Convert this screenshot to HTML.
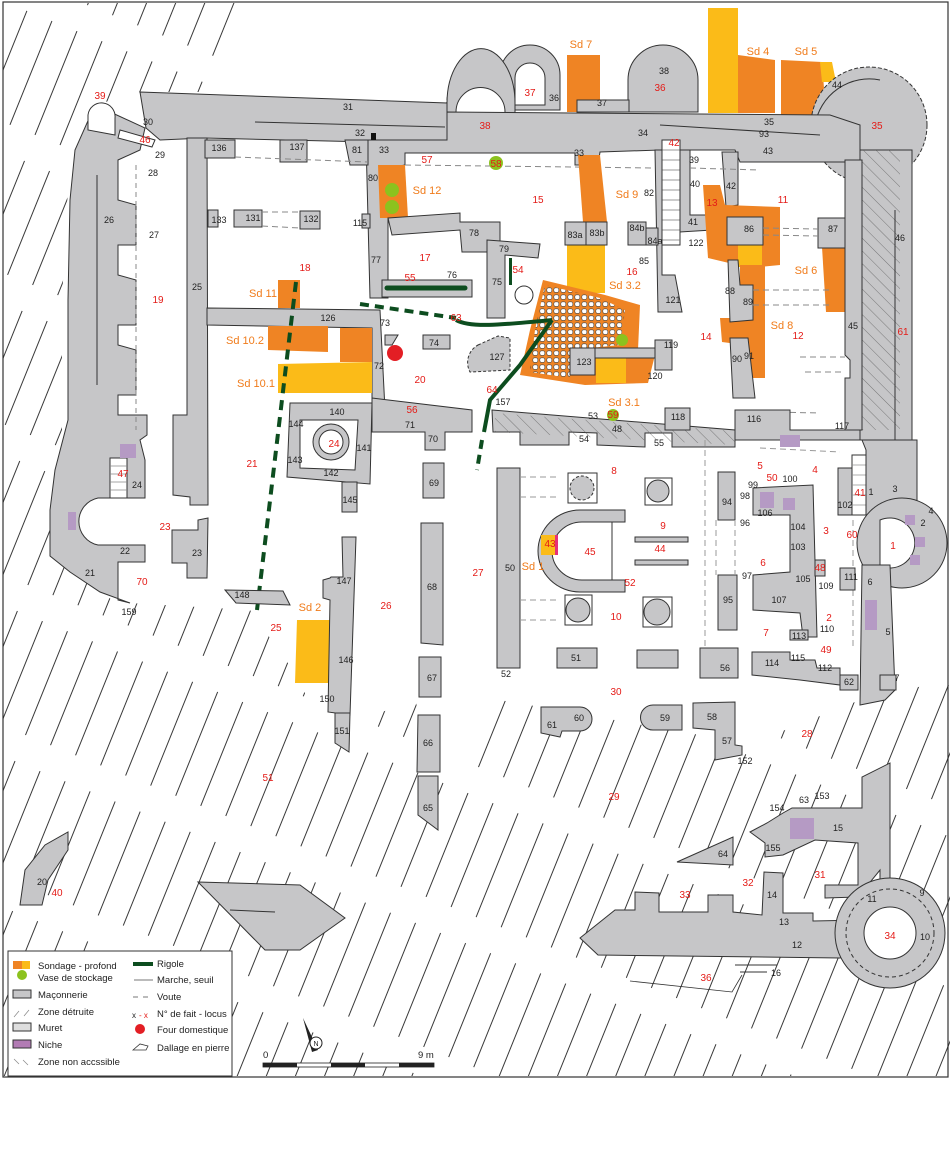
<!DOCTYPE html>
<html><head><meta charset="utf-8"><style>
html,body{margin:0;padding:0;background:#fff}
svg{display:block}
text{font-family:"Liberation Sans",sans-serif}
.k{font-size:9px;fill:#222}
.r{font-size:10px;fill:#e41b17}
.o{font-size:11px;fill:#f07b1a}
.g{fill:#c6c6c8;stroke:#333;stroke-width:1}
.w{fill:#fff;stroke:#333;stroke-width:1}
.or{fill:#ef8424}
.ye{fill:#fbbb18}
.lg{font-size:9.5px;fill:#222}
</style></head><body>
<svg width="952" height="1171" viewBox="0 0 952 1171" xmlns="http://www.w3.org/2000/svg">
<defs>
<pattern id="h" width="27" height="140" patternUnits="userSpaceOnUse" patternTransform="rotate(22)">
<line x1="2" y1="0" x2="2" y2="112" stroke="#222" stroke-width="0.9"/>
</pattern>
<pattern id="h2" width="9" height="9" patternUnits="userSpaceOnUse" patternTransform="rotate(-45)">
<line x1="0" y1="0" x2="0" y2="9" stroke="#555" stroke-width="0.7"/>
</pattern>
<pattern id="d" width="7" height="7" patternUnits="userSpaceOnUse">
<rect x="0.8" y="0.8" width="5" height="4.6" rx="1.8" fill="#fff" stroke="#444" stroke-width="0.6"/>
</pattern>
</defs>
<rect x="3" y="2" width="945" height="1075" fill="#fff" stroke="#333" stroke-width="1.2"/>

<!-- hatch zones -->
<polygon points="3,3 245,3 220,92 140,92 95,105 70,150 62,300 62,440 50,500 50,556 130,603 250,610 300,680 330,760 360,720 415,700 440,780 500,700 700,735 760,740 860,700 950,680 950,1076 3,1076" fill="url(#h)"/>
<polygon points="70,520 140,520 145,600 118,604 50,556" fill="#fff"/>

<!-- top towers and sondages -->
<rect class="ye" x="708" y="8" width="30" height="105"/>
<polygon class="or" points="738,55 775,60 775,113 738,113"/>
<polygon class="or" points="781,60 822,62 826,115 781,115"/>
<polygon class="ye" points="820,62 832,62 836,82 822,82"/>
<polygon class="or" points="567,55 600,55 600,112 567,112"/>
<path class="g" d="M500,110 L500,75 A30,30 0 0 1 560,75 L560,110 Z"/>
<path class="w" d="M515,105 L515,78 A15,15 0 0 1 545,78 L545,105 Z"/>
<path d="M447,105 A25,25 0 0 1 490,85" fill="none" stroke="#333" stroke-dasharray="3,2"/>
<path class="g" d="M628,112 L628,80 A35,35 0 0 1 698,80 L698,112 Z"/>
<rect class="g" x="577" y="100" width="52" height="12"/>

<!-- round tower 35 -->
<circle class="g" cx="869" cy="125" r="58" stroke-dasharray="4,2"/>
<polygon class="g" points="856,150 912,150 912,440 856,440"/>
<polygon points="862,150 900,150 900,430 862,430" fill="url(#h2)"/>
<path d="M815,125 A55,55 0 0 1 880,80" fill="none" stroke="#333"/>
<line x1="895" y1="210" x2="895" y2="440" stroke="#333"/>

<!-- top walls -->
<path class="g" d="M140,92 L447,103 L447,140 L370,142 L205,138 L160,140 L146,128 Z"/>
<path class="g" d="M447,140 L447,103 A25,40 0 0 1 515,103 L515,140 Z"/>
<path class="w" d="M456,140 L456,112 A24,24 0 0 1 505,112 L505,140 Z"/>
<polygon class="g" points="447,112 830,115 860,125 860,162 740,162 735,150 668,150 668,245 660,245 660,150 600,152 598,165 575,165 575,153 405,153 405,165 388,168 388,298 370,298 366,140 447,140"/>
<line x1="255" y1="122" x2="445" y2="127" stroke="#333"/>
<line x1="660" y1="125" x2="820" y2="135" stroke="#333"/>
<rect x="371" y="133" width="5" height="7" fill="#111"/>
<!-- stair 42 -->
<rect x="662" y="140" width="18" height="105" fill="#fff" stroke="#333"/>
<g stroke="#777" stroke-width="0.7"><line x1="662" y1="150" x2="680" y2="150"/><line x1="662" y1="160" x2="680" y2="160"/><line x1="662" y1="170" x2="680" y2="170"/><line x1="662" y1="180" x2="680" y2="180"/><line x1="662" y1="190" x2="680" y2="190"/><line x1="662" y1="200" x2="680" y2="200"/><line x1="662" y1="210" x2="680" y2="210"/><line x1="662" y1="220" x2="680" y2="220"/><line x1="662" y1="230" x2="680" y2="230"/><line x1="662" y1="240" x2="680" y2="240"/></g>
<polygon class="g" points="655,150 662,150 662,275 675,275 682,312 658,312"/>
<polygon class="g" points="680,150 690,150 690,215 712,215 712,230 680,232"/>
<polygon class="g" points="722,152 738,152 738,205 726,207"/>

<!-- left curtain wall -->
<path class="g" d="M95,105 L145,128 L140,150 L118,160 L118,200 L136,205 L136,245 L118,245 L118,275 L136,280 L136,325 L118,325 L118,345 L136,350 L136,395 L118,395 L118,415 L147,415 L147,435 L140,440 L145,460 L145,498 L98,498 A24,24 0 0 0 98,545 L145,545 L145,562 L118,562 L118,600 L130,603 L100,592 L70,572 L50,556 L50,510 L55,470 L68,420 L68,300 L70,200 L75,150 Z"/>
<path class="w" d="M88,130 L88,115 A12,12 0 0 1 115,118 L115,135 Z"/>
<line x1="136" y1="165" x2="136" y2="430" stroke="#888" stroke-dasharray="5,4"/>
<line x1="97" y1="175" x2="97" y2="385" stroke="#333"/>
<rect x="110" y="458" width="17" height="40" fill="#fff" stroke="#333"/>
<g stroke="#888" stroke-width="0.7"><line x1="110" y1="466" x2="127" y2="466"/><line x1="110" y1="474" x2="127" y2="474"/><line x1="110" y1="482" x2="127" y2="482"/><line x1="110" y1="490" x2="127" y2="490"/></g>
<rect x="120" y="444" width="16" height="14" fill="#b59ac4"/>
<rect x="68" y="512" width="8" height="18" fill="#b59ac4"/>
<polygon class="w" points="120,130 155,140 152,147 118,138" fill="url(#h2)"/>

<!-- wall 25 etc -->
<polygon class="g" points="187,138 207,138 208,505 190,505 190,497 173,495 173,415 187,415"/>
<polygon class="g" points="172,530 198,530 198,520 208,518 207,578 187,578 187,563 172,563"/>
<rect class="g" x="205" y="140" width="30" height="18"/>
<rect class="g" x="280" y="140" width="27" height="22"/>
<polygon class="g" points="345,140 368,140 368,165 350,165"/>
<rect class="g" x="208" y="210" width="10" height="17"/>
<rect class="g" x="234" y="210" width="28" height="17"/>
<rect class="g" x="300" y="211" width="20" height="18"/>
<rect class="g" x="362" y="214" width="8" height="14"/>
<g stroke="#888" stroke-dasharray="6,4" fill="none"><line x1="235" y1="157" x2="368" y2="162"/><line x1="262" y1="212" x2="300" y2="212"/><line x1="262" y1="226" x2="300" y2="228"/><line x1="405" y1="165" x2="655" y2="168"/><line x1="690" y1="168" x2="760" y2="170"/></g>

<!-- Sd 12 etc -->
<polygon class="or" points="378,165 405,165 408,218 380,218"/>
<circle cx="392" cy="190" r="7" fill="#8cc21e"/><circle cx="392" cy="207" r="7" fill="#8cc21e"/>
<circle cx="496" cy="163" r="7" fill="#8cc21e"/>
<polygon class="g" points="388,218 460,213 460,222 500,222 500,252 462,252 460,230 392,235"/>
<polygon class="g" points="487,240 540,244 538,258 505,255 505,318 487,318"/>
<circle cx="524" cy="295" r="9" fill="none" stroke="#333"/>
<rect x="509" y="258" width="3" height="27" fill="#0d4d1f"/>
<polygon class="or" points="578,155 600,155 607,222 583,222"/>
<rect class="ye" x="567" y="245" width="38" height="48"/>
<rect class="g" x="565" y="222" width="21" height="23"/><rect class="g" x="586" y="222" width="21" height="23"/>
<rect class="g" x="628" y="222" width="18" height="23"/><rect class="g" x="646" y="228" width="12" height="17"/>
<rect class="g" x="382" y="280" width="90" height="17"/>
<line x1="387" y1="288" x2="465" y2="288" stroke="#0d4d1f" stroke-width="5" stroke-linecap="round"/>

<!-- Sd 11/10 -->
<polygon class="or" points="278,280 300,280 300,308 278,308"/>
<polygon class="g" points="207,308 380,310 385,410 372,412 372,328 207,325"/>
<polygon class="or" points="268,326 328,326 328,352 268,350"/>
<polygon class="or" points="340,328 372,328 372,362 340,362"/>
<polygon class="ye" points="278,364 372,362 372,393 278,393"/>
<polygon class="g" points="385,335 398,335 392,345 385,345"/>
<circle cx="395" cy="353" r="8" fill="#e31e24"/>
<rect class="g" x="423" y="335" width="27" height="14"/>
<path d="M478,345 L498,336 L510,338 L510,370 L470,372 A20,20 0 0 1 478,345 Z" class="g" stroke-dasharray="3,2"/>

<!-- Sd 3.2 with dallage -->
<polygon class="or" points="543,280 605,295 640,305 638,350 655,355 648,383 585,385 520,375 530,330"/>
<polygon points="545,285 600,298 625,310 620,345 570,350 570,378 530,372 535,330" fill="url(#d)"/>
<rect class="ye" x="596" y="358" width="30" height="25"/>
<circle cx="622" cy="340" r="6" fill="#8cc21e"/>
<rect class="g" x="570" y="348" width="25" height="27"/>
<rect class="g" x="595" y="348" width="60" height="10"/>
<rect class="g" x="655" y="340" width="17" height="30"/>

<!-- Sd 13, 8, 6 -->
<polygon class="or" points="703,185 720,185 725,205 780,207 780,265 750,268 708,258"/>
<rect class="ye" x="738" y="245" width="24" height="22"/>
<rect class="g" x="727" y="217" width="36" height="28"/>
<polygon class="or" points="740,265 765,265 765,378 745,378 745,345 722,342 720,318 740,318"/>
<polygon class="g" points="728,260 738,260 740,285 753,285 753,320 730,322"/>
<polygon class="g" points="730,338 748,338 755,398 733,398"/>
<polygon class="or" points="822,247 845,247 845,312 826,312"/>
<rect class="g" x="818" y="218" width="28" height="30"/>
<polygon class="g" points="845,160 862,160 862,430 845,430 845,378 850,378 850,360 845,355"/>
<g stroke="#888" stroke-dasharray="6,4"><line x1="763" y1="228" x2="818" y2="229"/><line x1="763" y1="235" x2="818" y2="236"/><line x1="753" y1="290" x2="830" y2="290"/><line x1="753" y1="305" x2="830" y2="305"/><line x1="800" y1="357" x2="845" y2="357"/><line x1="805" y1="372" x2="845" y2="372"/><line x1="770" y1="412" x2="820" y2="413"/></g>

<!-- rigoles -->
<g stroke="#0d4d1f" fill="none">
<line x1="360" y1="304" x2="456" y2="318" stroke-width="4" stroke-dasharray="9,6"/>
<path d="M456,320 C470,328 500,325 552,320" stroke-width="4"/>
<path d="M552,320 L520,365 L490,400 L484,432" stroke-width="4"/>
<line x1="482" y1="440" x2="477" y2="470" stroke-width="4" stroke-dasharray="9,6"/>
<line x1="296" y1="282" x2="257" y2="610" stroke-width="4" stroke-dasharray="10,7"/>
</g>

<!-- square building 24 -->
<polygon class="g" points="290,403 372,403 370,484 287,477"/>
<polygon class="w" points="300,420 358,420 355,470 300,468"/>
<circle cx="331" cy="442" r="18" class="g"/><circle cx="331" cy="442" r="12" class="w"/>
<rect class="g" x="342" y="482" width="15" height="30"/>
<polygon class="g" points="372,398 472,410 472,432 445,432 445,450 425,450 425,432 372,432"/>
<polygon class="g" points="423,463 444,463 444,498 423,498"/>
<polygon class="g" points="421,523 443,523 443,645 421,643"/>
<polygon class="g" points="419,657 441,657 441,697 419,697"/>
<polygon class="g" points="418,715 440,715 440,772 417,772"/>
<polygon class="g" points="418,776 438,776 438,830 418,815"/>
<polygon class="ye" points="297,620 336,620 336,683 295,683"/>
<polygon class="g" points="342,537 356,537 350,715 328,712 330,600 323,598 323,580 330,578 331,577 343,577"/>
<polygon class="g" points="335,713 350,713 349,752 335,743"/>
<polygon class="g" points="225,590 283,591 290,605 236,603"/>

<!-- main lower building -->
<polygon class="g" points="492,410 735,430 735,447 672,447 672,433 645,433 645,447 597,445 597,433 569,432 569,445 520,445 520,432 493,432" />
<polygon points="495,413 735,431 735,445 495,432" fill="url(#h2)"/>
<polygon class="g" points="735,410 790,410 790,430 860,430 860,440 735,440"/>
<rect class="g" x="665" y="408" width="25" height="22"/>
<circle cx="613" cy="415" r="6" fill="#8cc21e"/>
<rect class="g" x="497" y="468" width="23" height="200"/>
<rect class="g" x="557" y="648" width="40" height="20"/>
<rect class="g" x="637" y="650" width="41" height="18"/>
<rect class="g" x="700" y="648" width="38" height="30"/>
<rect class="g" x="718" y="472" width="17" height="48"/>
<rect class="g" x="718" y="575" width="19" height="55"/>
<g fill="#fff" stroke="#333"><rect x="568" y="473" width="29" height="30"/><rect x="645" y="478" width="27" height="27"/><rect x="565" y="595" width="27" height="30"/><rect x="643" y="597" width="29" height="30"/></g>
<circle cx="582" cy="488" r="12" class="g" stroke-dasharray="3,2"/>
<circle cx="658" cy="491" r="11" class="g"/><circle cx="578" cy="610" r="12" class="g"/><circle cx="657" cy="612" r="13" class="g"/>
<path class="g" d="M625,510 L580,510 A42,41 0 0 0 580,592 L625,592 L625,580 L612,580 L612,522 L625,522 Z"/>
<path class="w" d="M612,522 L582,522 A30,29 0 0 0 582,580 L612,580 Z"/>
<rect class="g" x="635" y="537" width="53" height="5"/><rect class="g" x="635" y="560" width="53" height="5"/>
<rect class="ye" x="541" y="535" width="17" height="20"/><rect x="555" y="535" width="3" height="20" fill="#e6307a"/>
<g stroke="#999" stroke-dasharray="6,4"><line x1="520" y1="477" x2="560" y2="477"/><line x1="520" y1="497" x2="560" y2="497"/><line x1="520" y1="600" x2="560" y2="600"/><line x1="520" y1="620" x2="560" y2="620"/><line x1="705" y1="440" x2="705" y2="650"/><line x1="716" y1="520" x2="716" y2="575"/><line x1="735" y1="520" x2="735" y2="575"/><line x1="760" y1="448" x2="840" y2="452"/><line x1="853" y1="520" x2="853" y2="650"/><line x1="880" y1="520" x2="880" y2="560"/></g>
<rect x="780" y="435" width="20" height="12" fill="#b59ac4"/>
<!-- right building -->
<polygon class="g" points="753,488 813,485 817,637 803,637 800,613 753,610 753,575 790,572 790,515 753,515"/>
<rect x="783" y="498" width="12" height="12" fill="#b59ac4"/><rect x="760" y="492" width="14" height="16" fill="#b59ac4"/>
<rect class="g" x="790" y="630" width="18" height="10"/>
<rect class="g" x="815" y="560" width="10" height="16" fill="#fff"/>
<rect class="g" x="838" y="468" width="14" height="47"/>
<rect x="852" y="455" width="14" height="60" fill="#fff" stroke="#333"/>
<g stroke="#888" stroke-width="0.7"><line x1="852" y1="465" x2="866" y2="465"/><line x1="852" y1="475" x2="866" y2="475"/><line x1="852" y1="485" x2="866" y2="485"/><line x1="852" y1="495" x2="866" y2="495"/><line x1="852" y1="505" x2="866" y2="505"/></g>
<polygon class="g" points="862,440 917,440 917,505 875,515 866,515 866,450"/>
<circle cx="902" cy="543" r="45" class="g"/>
<path class="w" d="M880,520 A25,25 0 1 1 880,566 Z"/>
<g fill="#b59ac4"><rect x="905" y="515" width="10" height="10"/><rect x="915" y="537" width="10" height="10"/><rect x="910" y="555" width="10" height="10"/></g>
<polygon class="g" points="862,565 890,565 895,690 885,700 860,705"/>
<rect x="865" y="600" width="12" height="30" fill="#b59ac4"/>
<rect class="g" x="840" y="568" width="15" height="22"/>
<polygon class="g" points="752,652 790,652 790,660 815,660 817,668 840,668 840,685 800,680 752,675"/>
<rect class="g" x="840" y="675" width="18" height="15"/>
<rect class="g" x="880" y="675" width="16" height="15"/>

<!-- bottom structures -->
<path class="g" d="M541,707 L580,707 A12,12 0 0 1 580,731 L562,731 L560,737 L541,733 Z"/>
<path class="g" d="M653,705 L682,705 L682,730 L653,730 A12,12 0 0 1 653,705 Z"/>
<polygon class="g" points="693,703 735,702 735,745 742,746 742,755 715,760 715,730 693,728"/>
<polygon class="g" points="677,862 733,837 733,865"/>
<polygon class="g" points="750,832 767,823 783,813 792,808 862,808 862,777 890,763 890,880 880,880 880,870 858,897 825,898 825,885 858,885 858,843 815,840 783,855 765,857 765,843"/>
<rect x="790" y="818" width="24" height="21" fill="#b59ac4"/>
<polygon class="g" points="580,938 615,910 635,910 635,892 659,893 659,912 708,912 708,895 733,895 733,912 762,915 764,872 783,873 783,913 813,913 813,921 863,920 865,943 840,958 598,955"/>
<circle cx="890" cy="933" r="55" class="g"/><circle cx="890" cy="933" r="26" class="w"/>
<circle cx="890" cy="933" r="44" fill="none" stroke="#333" stroke-dasharray="4,3"/>
<polygon class="g" points="198,882 300,885 345,918 300,950 265,950"/>
<line x1="230" y1="910" x2="275" y2="912" stroke="#333"/>
<path class="g" d="M20,905 L25,870 L45,845 L68,832 L68,850 L48,880 L42,905 Z"/>
<g stroke="#333"><line x1="735" y1="965" x2="777" y2="965"/><line x1="740" y1="972" x2="767" y2="972"/></g>
<polyline points="630,981 732,992 742,975" fill="none" stroke="#333" stroke-width="0.8"/>

<!-- labels black -->
<g class="k" text-anchor="middle">
<text x="148" y="125">30</text><text x="160" y="158">29</text><text x="153" y="176">28</text><text x="109" y="223">26</text><text x="154" y="238">27</text><text x="197" y="290">25</text>
<text x="348" y="110">31</text><text x="360" y="136">32</text><text x="357" y="153">81</text><text x="384" y="153">33</text><text x="219" y="151">136</text><text x="297" y="150">137</text>
<text x="219" y="223">133</text><text x="253" y="221">131</text><text x="311" y="222">132</text><text x="360" y="226">115</text><text x="373" y="181">80</text><text x="376" y="263">77</text>
<text x="474" y="236">78</text><text x="504" y="252">79</text><text x="497" y="285">75</text><text x="452" y="278">76</text><text x="385" y="326">73</text><text x="328" y="321">126</text>
<text x="434" y="346">74</text><text x="379" y="369">72</text><text x="497" y="360">127</text><text x="503" y="405">157</text><text x="584" y="365">123</text><text x="671" y="348">119</text>
<text x="655" y="379">120</text><text x="673" y="303">121</text><text x="644" y="264">85</text><text x="649" y="196">82</text><text x="575" y="238">83a</text><text x="597" y="236">83b</text>
<text x="637" y="231">84b</text><text x="655" y="244">84a</text><text x="579" y="156">33</text><text x="643" y="136">34</text><text x="602" y="106">37</text><text x="664" y="74">38</text>
<text x="554" y="101">36</text><text x="769" y="125">35</text><text x="764" y="137">93</text><text x="768" y="154">43</text><text x="837" y="88">44</text><text x="694" y="163">39</text>
<text x="695" y="187">40</text><text x="731" y="189">42</text><text x="693" y="225">41</text><text x="696" y="246">122</text><text x="749" y="232">86</text><text x="833" y="232">87</text>
<text x="900" y="241">46</text><text x="853" y="329">45</text><text x="730" y="294">88</text><text x="748" y="305">89</text><text x="737" y="362">90</text><text x="749" y="359">91</text>
<text x="754" y="422">116</text><text x="842" y="429">117</text><text x="678" y="420">118</text><text x="593" y="419">53</text><text x="617" y="432">48</text><text x="584" y="442">54</text><text x="659" y="446">55</text>
<text x="337" y="415">140</text><text x="296" y="427">144</text><text x="364" y="451">141</text><text x="295" y="463">143</text><text x="331" y="476">142</text><text x="350" y="503">145</text>
<text x="410" y="428">71</text><text x="433" y="442">70</text><text x="434" y="486">69</text><text x="432" y="590">68</text><text x="432" y="681">67</text><text x="428" y="746">66</text><text x="428" y="811">65</text>
<text x="137" y="488">24</text><text x="125" y="554">22</text><text x="197" y="556">23</text><text x="90" y="576">21</text><text x="129" y="615">159</text><text x="242" y="598">148</text>
<text x="344" y="584">147</text><text x="346" y="663">146</text><text x="327" y="702">150</text><text x="342" y="734">151</text><text x="510" y="571">50</text><text x="506" y="677">52</text><text x="576" y="661">51</text>
<text x="727" y="505">94</text><text x="745" y="526">96</text><text x="747" y="579">97</text><text x="728" y="603">95</text><text x="725" y="671">56</text><text x="753" y="488">99</text><text x="745" y="499">98</text>
<text x="790" y="482">100</text><text x="765" y="516">106</text><text x="798" y="530">104</text><text x="798" y="550">103</text><text x="803" y="582">105</text><text x="826" y="589">109</text>
<text x="779" y="603">107</text><text x="827" y="632">110</text><text x="799" y="639">113</text><text x="772" y="666">114</text><text x="798" y="661">115</text><text x="825" y="671">112</text>
<text x="845" y="508">102</text><text x="871" y="495">1</text><text x="895" y="492">3</text><text x="851" y="580">111</text><text x="870" y="585">6</text><text x="888" y="635">5</text>
<text x="931" y="514">4</text><text x="923" y="526">2</text><text x="849" y="685">62</text><text x="897" y="681">7</text>
<text x="579" y="721">60</text><text x="552" y="728">61</text><text x="665" y="721">59</text><text x="712" y="720">58</text><text x="727" y="744">57</text><text x="745" y="764">152</text>
<text x="723" y="857">64</text><text x="777" y="811">154</text><text x="804" y="803">63</text><text x="822" y="799">153</text><text x="838" y="831">15</text><text x="773" y="851">155</text>
<text x="872" y="902">11</text><text x="772" y="898">14</text><text x="784" y="925">13</text><text x="797" y="948">12</text><text x="922" y="896">9</text><text x="925" y="940">10</text>
<text x="776" y="976">16</text><text x="42" y="885">20</text>
</g>
<!-- labels red -->
<g class="r" text-anchor="middle">
<text x="100" y="99">39</text><text x="145" y="143">46</text><text x="158" y="303">19</text><text x="305" y="271">18</text><text x="427" y="163">57</text><text x="496" y="167">58</text>
<text x="538" y="203">15</text><text x="425" y="261">17</text><text x="410" y="281">55</text><text x="518" y="273">54</text><text x="456" y="321">63</text><text x="632" y="275">16</text>
<text x="420" y="383">20</text><text x="412" y="413">56</text><text x="492" y="393">64</text><text x="334" y="447">24</text><text x="252" y="467">21</text><text x="123" y="477">47</text>
<text x="165" y="530">23</text><text x="142" y="585">70</text><text x="386" y="609">26</text><text x="478" y="576">27</text><text x="276" y="631">25</text><text x="268" y="781">51</text>
<text x="616" y="695">30</text><text x="614" y="800">29</text><text x="807" y="737">28</text><text x="820" y="878">31</text><text x="748" y="886">32</text><text x="685" y="898">33</text>
<text x="890" y="939">34</text><text x="706" y="981">36</text><text x="57" y="896">40</text><text x="530" y="96">37</text><text x="660" y="91">36</text><text x="485" y="129">38</text>
<text x="877" y="129">35</text><text x="674" y="146">42</text><text x="712" y="206">13</text><text x="783" y="203">11</text><text x="706" y="340">14</text><text x="798" y="339">12</text>
<text x="903" y="335">61</text><text x="760" y="469">5</text><text x="772" y="481">50</text><text x="815" y="473">4</text><text x="860" y="496">41</text><text x="826" y="534">3</text>
<text x="852" y="538">60</text><text x="893" y="549">1</text><text x="763" y="566">6</text><text x="820" y="571">48</text><text x="766" y="636">7</text><text x="829" y="621">2</text>
<text x="826" y="653">49</text><text x="614" y="474">8</text><text x="663" y="529">9</text><text x="660" y="552">44</text><text x="590" y="555">45</text><text x="630" y="586">52</text>
<text x="616" y="620">10</text><text x="550" y="547">43</text><text x="613" y="418">59</text>
</g>
<g class="o" text-anchor="middle">
<text x="581" y="48">Sd 7</text><text x="758" y="55">Sd 4</text><text x="806" y="55">Sd 5</text><text x="427" y="194">Sd 12</text><text x="627" y="198">Sd 9</text>
<text x="263" y="297">Sd 11</text><text x="245" y="344">Sd 10.2</text><text x="256" y="387">Sd 10.1</text><text x="625" y="289">Sd 3.2</text><text x="624" y="406">Sd 3.1</text>
<text x="806" y="274">Sd 6</text><text x="782" y="329">Sd 8</text><text x="533" y="570">Sd 1</text><text x="310" y="611">Sd 2</text>
</g>

<!-- legend -->
<rect x="8" y="951" width="224" height="125" fill="#fff" stroke="#333"/>
<rect x="13" y="961" width="9" height="8" class="or"/><rect x="22" y="961" width="8" height="8" class="ye"/>
<circle cx="22" cy="975" r="5" fill="#8cc21e"/>
<rect x="13" y="990" width="18" height="8" class="g"/>
<g stroke="#888" stroke-width="0.7"><line x1="14" y1="1017" x2="19" y2="1011"/><line x1="24" y1="1016" x2="29" y2="1010"/><line x1="14" y1="1059" x2="19" y2="1064"/><line x1="23" y1="1060" x2="28" y2="1065"/></g>
<rect x="13" y="1023" width="18" height="8" fill="#dedede" stroke="#333"/>
<rect x="13" y="1040" width="18" height="8" fill="#b27bb4" stroke="#333"/>
<g class="lg"><text x="38" y="969">Sondage - profond</text><text x="38" y="981">Vase de stockage</text><text x="38" y="998">Maçonnerie</text><text x="38" y="1015">Zone détruite</text><text x="38" y="1031">Muret</text><text x="38" y="1048">Niche</text><text x="38" y="1065">Zone non accssible</text>
<text x="157" y="967">Rigole</text><text x="157" y="983">Marche, seuil</text><text x="157" y="1000">Voute</text><text x="157" y="1017">N° de fait - locus</text><text x="157" y="1033">Four domestique</text><text x="157" y="1051">Dallage en pierre</text></g>
<rect x="133" y="962" width="20" height="4" fill="#0d4d1f"/>
<line x1="134" y1="980" x2="153" y2="980" stroke="#777"/>
<line x1="133" y1="997" x2="153" y2="997" stroke="#777" stroke-dasharray="5,5"/>
<text x="132" y="1018" font-size="8" fill="#222">x</text><text x="139" y="1018" font-size="8" fill="#e41b17">- x</text>
<circle cx="140" cy="1029" r="5" fill="#e31e24"/>
<path d="M133,1050 L140,1044 L148,1046 L146,1050 Z" fill="none" stroke="#333" stroke-width="0.8"/>
<!-- north + scale -->
<polygon points="303,1018 318,1050 312,1052" fill="#222"/>
<circle cx="316" cy="1043" r="6" fill="#fff" stroke="#222"/>
<text x="316" y="1046" font-size="7" text-anchor="middle" fill="#222">N</text>
<text x="263" y="1058" font-size="9.5" fill="#222">0</text><text x="418" y="1058" font-size="9.5" fill="#222">9 m</text>
<rect x="263" y="1063" width="171" height="4" fill="#fff" stroke="#222" stroke-width="0.8"/>
<rect x="263" y="1063" width="34" height="4" fill="#222"/><rect x="331" y="1063" width="34" height="4" fill="#222"/><rect x="399" y="1063" width="35" height="4" fill="#222"/>
</svg>
</body></html>
